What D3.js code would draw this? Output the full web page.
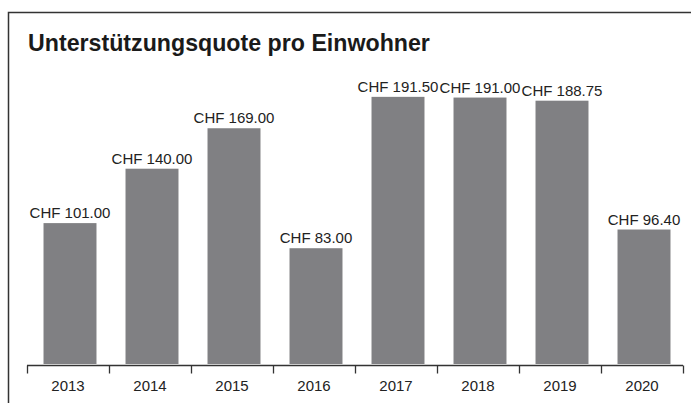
<!DOCTYPE html>
<html>
<head>
<meta charset="utf-8">
<script src="https://cdn.jsdelivr.net/npm/d3@7"></script>
<style>
  body { margin: 0; background: #fff; }
  text { font-family: "Liberation Sans", Arial, sans-serif; fill: #222; }
</style>
</head>
<body>
<div id="chart"></div>
<script>
var years = ["2013", "2014", "2015", "2016", "2017", "2018", "2019", "2020"];
var values = [101.00, 140.00, 169.00, 83.00, 191.50, 191.00, 188.75, 96.40];
var valueLabels = ["CHF 101.00", "CHF 140.00", "CHF 169.00", "CHF 83.00", "CHF 191.50", "CHF 191.00", "CHF 188.75", "CHF 96.40"];
var title = "Unterstützungsquote pro Einwohner";

var w = 691, h = 403;
var axisY = 365;

var svg = d3.select("#chart").append("svg")
    .attr("width", w)
    .attr("height", h);

// frame: left and top lines only
svg.append("path")
    .attr("d", "M8.5," + h + "V12.5H" + w)
    .attr("fill", "none")
    .attr("stroke", "#333")
    .attr("stroke-width", 1.5);

svg.append("text")
    .attr("x", 28)
    .attr("y", 51)
    .attr("font-size", 23.2)
    .attr("font-weight", "bold")
    .style("fill", "#1a1a1a")
    .text(title);

// axis bands (ticks at boundaries) and slightly shifted bar bands
var xAxis = d3.scaleBand().domain(years).range([27, 683]);
var x = d3.scaleBand().domain(years).range([29, 685]).paddingInner(0.354).paddingOuter(0.177);
var y = d3.scaleLinear().domain([0, 200]).range([axisY - 1, axisY - 1 - 279]);

svg.selectAll("rect.bar")
    .data(values)
    .enter()
    .append("rect")
    .attr("class", "bar")
    .attr("x", function(d, i) { return x(years[i]); })
    .attr("y", function(d) { return y(d); })
    .attr("width", x.bandwidth())
    .attr("height", function(d) { return y(0) - y(d); })
    .attr("fill", "#808083");

svg.selectAll("text.val")
    .data(values)
    .enter()
    .append("text")
    .attr("class", "val")
    .attr("x", function(d, i) { return x(years[i]) + x.bandwidth() / 2; })
    .attr("y", function(d) { return y(d) - 5; })
    .attr("text-anchor", "middle")
    .attr("font-size", 15)
    .text(function(d, i) { return valueLabels[i]; });

// axis with ticks at band boundaries
var tickScale = d3.scalePoint().domain(d3.range(years.length + 1)).range([27, 683]);
var axis = svg.append("g")
    .attr("transform", "translate(0," + (axisY + 0.5) + ")")
    .call(d3.axisBottom(tickScale).tickSize(8).tickFormat(""));
axis.selectAll("path, line").attr("stroke", "#333").attr("stroke-width", 1.3);
axis.select("path.domain").attr("d", "M27,0H683");

svg.selectAll("text.year")
    .data(years)
    .enter()
    .append("text")
    .attr("class", "year")
    .attr("x", function(d) { return xAxis(d) + xAxis.bandwidth() / 2; })
    .attr("y", 391)
    .attr("text-anchor", "middle")
    .attr("font-size", 15)
    .text(function(d) { return d; });
</script>
</body>
</html>
